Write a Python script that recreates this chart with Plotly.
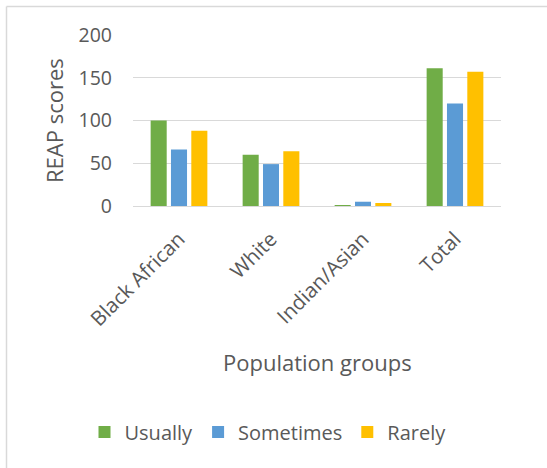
import plotly.graph_objects as go

categories = ["Black African", "White", "Indian/Asian", "Total"]
usually = [100, 60, 1, 161]
sometimes = [66, 49, 5, 120]
rarely = [88, 64, 3.5, 157]
series_names = ["Usually", "Sometimes", "Rarely"]
colors = ["#70AD47", "#5B9BD5", "#FFC000"]
y_ticks = [0, 50, 100, 150, 200]

W, H = 547, 468
L, R, T, B = 133, 46, 35, 262
pw, ph = W - L - R, H - T - B

FONT = "Open Sans"
TXT = "#595959"

fig = go.Figure()
for name, vals, col in zip(series_names, [usually, sometimes, rarely], colors):
    fig.add_trace(go.Bar(name=name, x=categories, y=vals, marker_color=col,
                         marker_line_width=0))

def px_x(x):
    return (x - L) / pw

def px_y(y):
    return (H - B - y) / ph

fig.update_layout(
    width=W, height=H,
    margin=dict(l=L, r=R, t=T, b=B, autoexpand=False),
    paper_bgcolor="white", plot_bgcolor="white",
    barmode="group", bargap=0.337, bargroupgap=0.21,
    font=dict(family=FONT, color=TXT, size=19),
    showlegend=True,
    legend=dict(orientation="h", x=px_x(268), xanchor="center",
                y=px_y(432), yanchor="middle",
                font=dict(size=20, color=TXT), itemwidth=30,
                traceorder="normal"),
    xaxis=dict(showgrid=False, showline=True, linecolor="#D9D9D9", linewidth=1,
               tickangle=-45, ticks="", tickfont=dict(size=20.5, color=TXT),
               ticklabelstandoff=12, fixedrange=True),
    yaxis=dict(range=[0, 200], tickvals=y_ticks, showgrid=True,
               gridcolor="#D9D9D9", gridwidth=1, zeroline=False,
               showline=False, ticks="", tickfont=dict(size=19.5, color=TXT),
               ticklabelstandoff=20, fixedrange=True),
    annotations=[
        dict(text="REAP scores", xref="paper", yref="paper",
             x=px_x(54), y=px_y(121), textangle=-90, showarrow=False,
             xanchor="center", yanchor="middle",
             font=dict(size=22, color=TXT, family=FONT)),
        dict(text="Population groups", xref="paper", yref="paper",
             x=px_x(317), y=px_y(362), showarrow=False,
             xanchor="center", yanchor="middle",
             font=dict(size=22, color=TXT, family=FONT)),
    ],
    shapes=[
        dict(type="line", xref="paper", yref="paper",
             x0=px_x(6.5), x1=px_x(6.5), y0=px_y(6.5), y1=px_y(H + 5),
             line=dict(color="#D9D9D9", width=1.5)),
        dict(type="line", xref="paper", yref="paper",
             x0=px_x(6.5), x1=px_x(W + 5), y0=px_y(6.5), y1=px_y(6.5),
             line=dict(color="#D9D9D9", width=1.5)),
    ],
)

fig.write_html("out.html", config={"displayModeBar": False})
